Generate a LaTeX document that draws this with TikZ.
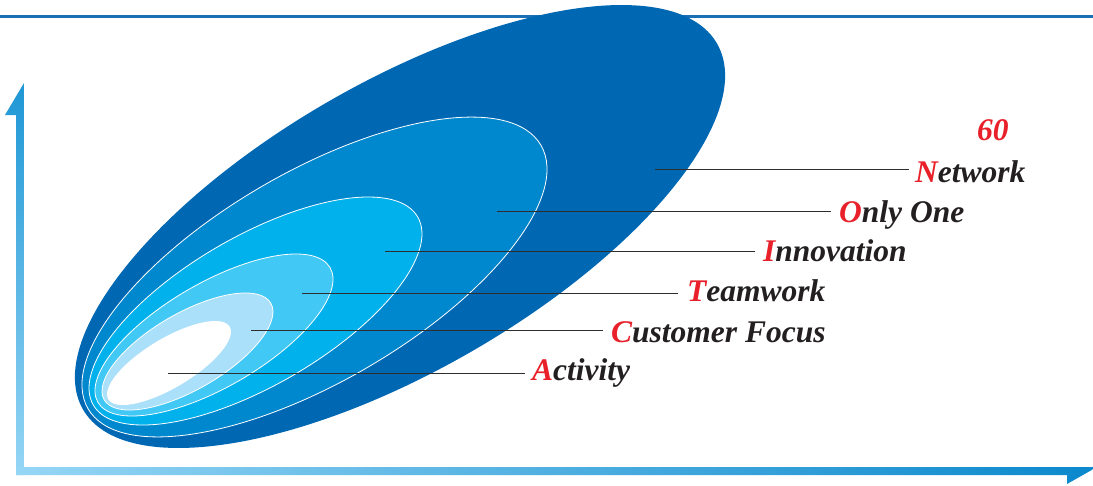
\documentclass[tikz,border=0pt]{standalone}
\usepackage{fontspec}
\setmainfont{Liberation Serif}
\definecolor{topline}{HTML}{1A6FB5}
\definecolor{eA}{HTML}{0067B3}
\definecolor{eB}{HTML}{0088CE}
\definecolor{eC}{HTML}{00B1EB}
\definecolor{eD}{HTML}{42C8F4}
\definecolor{eE}{HTML}{ABE0FA}
\definecolor{redtxt}{HTML}{E8202A}
\definecolor{blacktxt}{HTML}{231F20}
\definecolor{leader}{HTML}{2E2E2E}
\definecolor{axdark}{HTML}{0A88CC}
\definecolor{axvtop}{HTML}{1F97D5}
\definecolor{axlight}{HTML}{95D6F5}
\tikzset{
  ring/.style={draw=white, line width=0.8pt},
  leaderline/.style={draw=leader, line width=1pt},
  lbl/.style={anchor=base west, inner sep=0pt, text=blacktxt,
    font=\fontsize{31.5}{31.5}\selectfont\bfseries\itshape},
}
\newcommand{\rl}[1]{\textcolor{redtxt}{#1}}
\begin{document}
\begin{tikzpicture}[x=1pt,y=-1pt]
\useasboundingbox (0,0) rectangle (1093,485);
% top rule
\fill[topline] (0,15) rectangle (1093,17.5);
% axes
\shade[top color=axvtop, bottom color=axlight] (5,115) -- (24,83) -- (24,475) -- (16,475) -- (16,115) -- cycle;
\shade[left color=axlight, right color=axdark] (16,467) -- (1097,467) -- (1067,484) -- (1067,475) -- (16,475) -- cycle;
% ellipses
\fill[eA, rotate around={30:(400,226.5)}] (400,226.5) ellipse [x radius=366, y radius=144];
\path[fill=eB, ring, rotate around={30.2:(314.5,277)}] (314.5,277) ellipse [x radius=262, y radius=104.8];
\path[fill=eC, ring, rotate around={30.1:(255.5,311)}] (255.5,311) ellipse [x radius=187.5, y radius=74.5];
\path[fill=eD, ring, rotate around={30.1:(214,335)}] (214,335) ellipse [x radius=134.2, y radius=52.1];
\path[fill=eE, ring, rotate around={30.1:(187.5,351.5)}] (187.5,351.5) ellipse [x radius=96.3, y radius=38.2];
\fill[white, rotate around={30.9:(169,363)}] (169,363) ellipse [x radius=70.7, y radius=24.6];
% labels
\node[lbl, text=redtxt] (n60) at (977,140) {60};
\node[lbl] (net) at (915,182) {\rl{N}etwork};
\node[lbl] (one) at (839,222) {\rl{O}nly One};
\node[lbl] (inn) at (763,261) {\rl{I}nnovation};
\node[lbl] (team) at (687,301) {\rl{T}eamwork};
\node[lbl] (cust) at (611,342) {\rl{C}ustomer Focus};
\node[lbl] (act) at (532,380) {\rl{A}ctivity};
% leader points
\coordinate (pnet) at (655,169);   \coordinate (enet) at (909,169);
\coordinate (pone) at (497,211.5); \coordinate (eone) at (831,211.5);
\coordinate (pinn) at (385,251.5); \coordinate (einn) at (755,251.5);
\coordinate (pteam) at (302,293);  \coordinate (eteam) at (678,293);
\coordinate (pcust) at (251,330.5);\coordinate (ecust) at (603,330.5);
\coordinate (pact) at (168,373);   \coordinate (eact) at (525,373);
\draw[leaderline] (pnet) -- (enet);
\draw[leaderline] (pone) -- (eone);
\draw[leaderline] (pinn) -- (einn);
\draw[leaderline] (pteam) -- (eteam);
\draw[leaderline] (pcust) -- (ecust);
\draw[leaderline] (pact) -- (eact);
\end{tikzpicture}
\end{document}
